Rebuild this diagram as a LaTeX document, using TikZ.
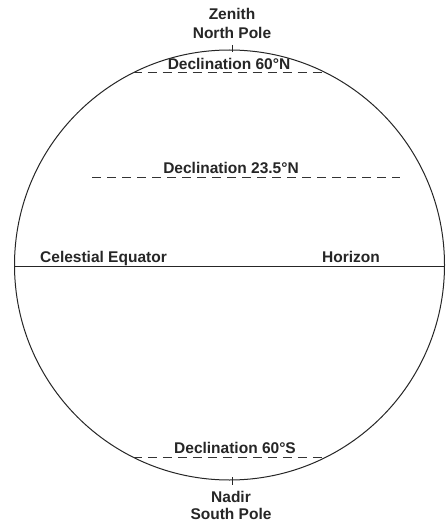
\documentclass[tikz,border=0pt]{standalone}
\usepackage{fontspec}
\setmainfont{Liberation Sans}
\begin{document}
\begin{tikzpicture}[x=1pt,y=-1pt,
  lbl/.style={font=\fontsize{15.5}{17}\selectfont\bfseries, inner sep=0pt, anchor=base, text=black!85},
  decl/.style={line width=0.9pt, dash pattern=on 9pt off 6pt, black!80},
  solidline/.style={line width=1pt, black!85}]
\useasboundingbox (0,0) rectangle (445,527);
\fill[white] (0,0) rectangle (445,527);
% celestial sphere
\coordinate (C) at (229.5,265);
\draw[solidline] (C) circle[radius=215];
% poles ticks
\coordinate (ztop) at (232,45);
\coordinate (zbot) at (232,52);
\coordinate (ntop) at (232,477);
\coordinate (nbot) at (232,485);
\draw[solidline, line width=0.7pt] (ztop) -- (zbot);
\draw[solidline, line width=0.7pt] (ntop) -- (nbot);
% horizon / celestial equator
\coordinate (hL) at (14.5,266);
\coordinate (hR) at (444.5,266);
\draw[solidline] (hL) -- (hR);
% declination lines
\coordinate (d60nL) at (132.5,72);
\coordinate (d60nR) at (326.5,72);
\draw[decl] (d60nL) -- (d60nR);
\coordinate (d23L) at (92,177);
\coordinate (d23R) at (400,177);
\draw[decl] (d23L) -- (d23R);
\coordinate (d60sL) at (132.8,457);
\coordinate (d60sR) at (326.2,457);
\draw[decl] (d60sL) -- (d60sR);
% labels
\node[lbl] (zenith) at (232,20) {Zenith};
\node[lbl] (npole) at (232,38) {North Pole};
\node[lbl] (l60n) at (229,70) {Declination 60°N};
\node[lbl] (l23n) at (231,173) {Declination 23.5°N};
\node[lbl, anchor=base west] (eq) at (40,262) {Celestial Equator};
\node[lbl, anchor=base west] (hor) at (322,262) {Horizon};
\node[lbl] (l60s) at (235,453) {Declination 60°S};
\node[lbl] (nadir) at (231,502) {Nadir};
\node[lbl] (spole) at (231,519) {South Pole};
\end{tikzpicture}
\end{document}
